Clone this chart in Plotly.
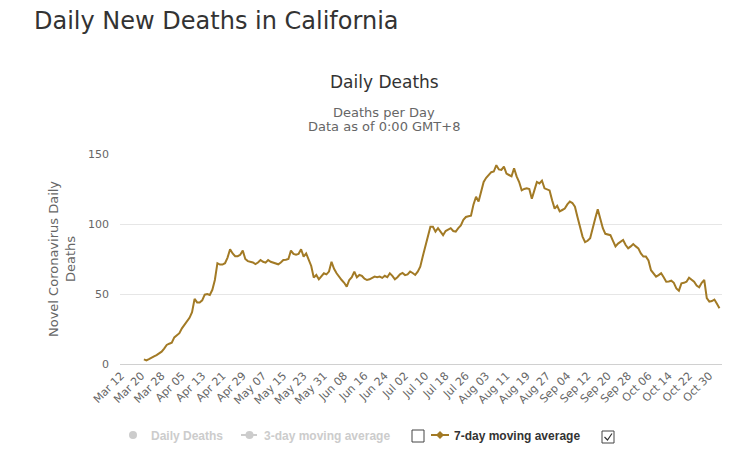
import pandas as pd
import plotly.graph_objects as go

# ---------------- data ----------------
start_date = "2020-03-21"
avg7_values = [
    3.3, 2.6, 3.5, 4.8, 5.5, 6.4, 7.5, 8.8, 11, 13.6,
    14.5, 15.2, 19, 20.5, 22, 25.5, 28, 30.5, 33, 37,
    46.5, 44, 44, 45.5, 49.5, 50, 49.3, 53, 60, 72,
    71, 71, 72, 76, 82, 79, 77, 77, 78, 81,
    75, 73.5, 73, 72.5, 71.4, 72.5, 74.3, 73, 72.4, 74.3,
    73, 72.4, 72, 71.2, 72.5, 74.3, 74.5, 75, 81, 78.6,
    78, 78.6, 82, 76.7, 79, 74, 70, 61.7, 63.6, 60.5,
    62.5, 64.8, 64, 66, 73, 68, 64.8, 62, 60, 58,
    55.2, 60, 62, 66, 61.9, 63.6, 62.9, 61, 60, 60.5,
    61.5, 62.4, 62, 62.4, 61.5, 63, 62, 64.8, 63, 60.5,
    62, 64, 65, 63.5, 64, 66, 65, 63.6, 66, 69.5,
    77, 84, 91, 98, 98, 94.5, 97, 94, 92, 95,
    96, 97, 95, 94.5, 97, 99, 103, 105, 105.5, 106,
    114, 119.5, 116, 124, 130, 133, 135, 137, 137.5, 142,
    139, 138.6, 141, 136, 135, 134, 139.8, 134, 130, 124,
    125, 125.5, 125, 118, 124, 130, 129, 131, 125.5, 125,
    124, 117, 111, 113, 109, 110, 111, 114, 116, 115,
    112.4, 105, 97, 91, 87, 88, 89.8, 96, 104, 110.5,
    104, 97, 93, 92.5, 92, 88, 84, 86, 87.5, 88.6,
    85, 82.6, 84, 85.7, 84, 82.6, 79, 76.7, 76.7, 74,
    67, 65, 62.4, 63.5, 64.8, 62, 58.8, 59, 59.5, 58,
    54, 52.4, 57.6, 58, 58.8, 61.7, 60, 58.8, 56, 54.8,
    58, 60, 47, 44.5, 45, 46, 43, 39.8,
]
dates = pd.date_range(start_date, periods=len(avg7_values), freq="D")

tick_labels = ["Mar 12", "Mar 20", "Mar 28", "Apr 05", "Apr 13", "Apr 21", "Apr 29",
               "May 07", "May 15", "May 23", "May 31", "Jun 08", "Jun 16", "Jun 24",
               "Jul 02", "Jul 10", "Jul 18", "Jul 26", "Aug 03", "Aug 11", "Aug 19",
               "Aug 27", "Sep 04", "Sep 12", "Sep 20", "Sep 28", "Oct 06", "Oct 14",
               "Oct 22", "Oct 30"]
tick_dates = pd.date_range("2020-03-12", periods=len(tick_labels), freq="8D")
y_ticks = [0, 50, 100, 150]

legend_names = ["Daily Deaths", "3-day moving average", "7-day moving average"]

# ---------------- styling / layout ----------------
W, H = 736, 462
L, R, T, B = 120, 722, 154, 364
LINE = "#a27a25"


def px(x):
    return (x - L) / (R - L)


def py(y):
    return (B - y) / (B - T)


fig = go.Figure()
fig.add_trace(go.Scatter(x=dates, y=avg7_values, mode="lines",
                         line=dict(color=LINE, width=2), name=legend_names[2],
                         showlegend=False, hoverinfo="x+y"))

annotations = [
    dict(text="Daily New Deaths in California", x=px(32), y=py(21), xanchor="left",
         yanchor="middle", font=dict(family="DejaVu Sans", size=24, color="#333333")),
    dict(text="Daily Deaths", x=px(384), y=py(82), xanchor="center", yanchor="middle",
         font=dict(family="DejaVu Sans", size=17, color="#333333")),
    dict(text="Deaths per Day", x=px(384), y=py(112), xanchor="center", yanchor="middle",
         font=dict(family="DejaVu Sans", size=13, color="#666666")),
    dict(text="Data as of 0:00 GMT+8", x=px(384), y=py(126), xanchor="center", yanchor="middle",
         font=dict(family="DejaVu Sans", size=13, color="#666666")),
    dict(text="Novel Coronavirus Daily<br>Deaths", x=px(62), y=py(259), xanchor="center",
         yanchor="middle", textangle=-90,
         font=dict(family="DejaVu Sans", size=13, color="#666666")),
    dict(text="<b>" + legend_names[0] + "</b>", x=px(149), y=py(435.5), xanchor="left",
         yanchor="middle", font=dict(family="Liberation Sans", size=12, color="#cccccc")),
    dict(text="<b>" + legend_names[1] + "</b>", x=px(262), y=py(435.5), xanchor="left",
         yanchor="middle", font=dict(family="Liberation Sans", size=12, color="#cccccc")),
    dict(text="<b>" + legend_names[2] + "</b>", x=px(452), y=py(435.5), xanchor="left",
         yanchor="middle", font=dict(family="Liberation Sans", size=12, color="#333333")),
]
for a in annotations:
    a.update(xref="paper", yref="paper", showarrow=False)

shapes = [
    # Daily deaths legend symbol
    dict(type="circle", x0=px(129), x1=px(137), y0=py(439), y1=py(431),
         fillcolor="#cccccc", line=dict(width=0)),
    # 3-day legend symbol
    dict(type="line", x0=px(241), x1=px(257), y0=py(435), y1=py(435),
         line=dict(color="#cccccc", width=2)),
    dict(type="circle", x0=px(245.5), x1=px(253.5), y0=py(439), y1=py(431),
         fillcolor="#cccccc", line=dict(width=0)),
    # checkbox 1
    dict(type="rect", x0=px(412), x1=px(424), y0=py(442), y1=py(430),
         fillcolor="white", line=dict(color="#444444", width=1)),
    # 7-day legend symbol
    dict(type="line", x0=px(431), x1=px(449), y0=py(435), y1=py(435),
         line=dict(color=LINE, width=2)),
    dict(type="path",
         path=f"M {px(440)} {py(431)} L {px(444)} {py(435)} L {px(440)} {py(439)} L {px(436)} {py(435)} Z",
         fillcolor=LINE, line=dict(width=0)),
    # checkbox 2
    dict(type="rect", x0=px(602), x1=px(614), y0=py(443), y1=py(431),
         fillcolor="white", line=dict(color="#444444", width=1)),
    dict(type="path",
         path=f"M {px(604.5)} {py(437)} L {px(607.5)} {py(440)} L {px(612)} {py(433.5)}",
         line=dict(color="#333333", width=1.2)),
]
for s in shapes:
    s.update(xref="paper", yref="paper")

fig.update_layout(
    width=W, height=H,
    margin=dict(l=L, r=W - R, t=T, b=H - B, pad=0),
    paper_bgcolor="white", plot_bgcolor="white",
    showlegend=False,
    annotations=annotations, shapes=shapes,
    font=dict(family="DejaVu Sans", color="#666666"),
    xaxis=dict(
        type="date",
        range=[pd.Timestamp("2020-03-11 14:00"), pd.Timestamp("2020-11-04 00:00")],
        tickmode="array", tickvals=tick_dates, ticktext=tick_labels,
        tickangle=-45, tickfont=dict(family="DejaVu Sans", size=11, color="#666666"),
        showgrid=False, showline=True, linecolor="#d0d0d0", linewidth=1,
        ticks="", zeroline=False, fixedrange=True,
    ),
    yaxis=dict(
        range=[0, 150], tickmode="array", tickvals=y_ticks,
        tickfont=dict(family="DejaVu Sans", size=11, color="#666666"),
        showgrid=True, gridcolor="#e6e6e6", gridwidth=1,
        zeroline=False, showline=False, ticks="", ticklabelstandoff=10,
        fixedrange=True,
    ),
)

fig.write_html("out.html")
